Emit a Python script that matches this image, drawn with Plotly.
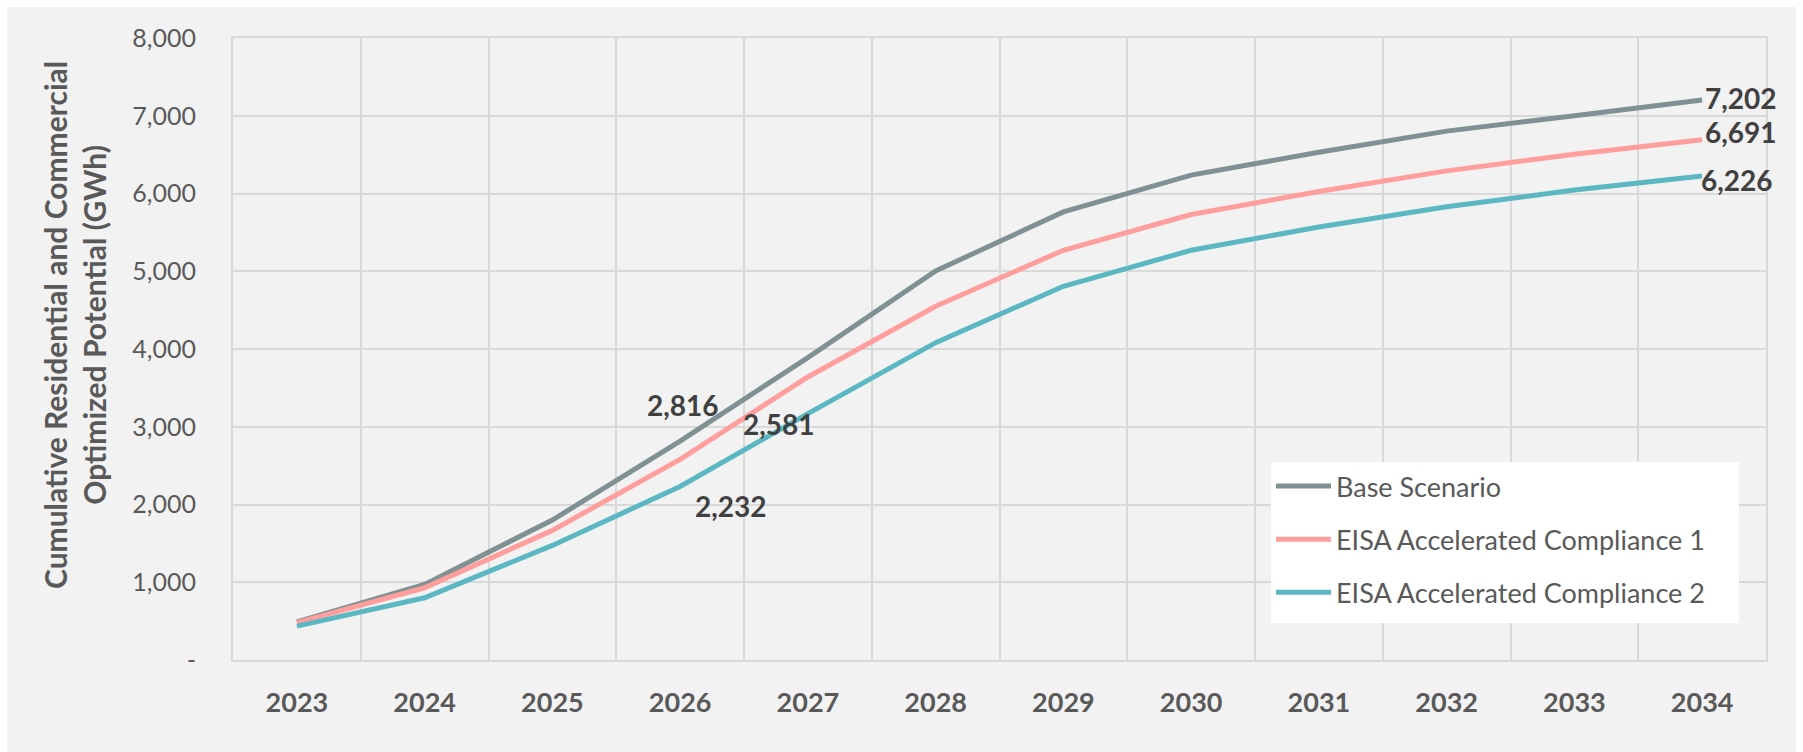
import plotly.graph_objects as go

years = ["2023", "2024", "2025", "2026", "2027", "2028", "2029", "2030", "2031", "2032", "2033", "2034"]
base_scenario = [490, 972, 1800, 2816, 3890, 5004, 5763, 6236, 6531, 6802, 7000, 7202]
eisa_1 = [480, 929, 1667, 2581, 3640, 4550, 5270, 5730, 6026, 6291, 6506, 6691]
eisa_2 = [435, 800, 1474, 2232, 3169, 4082, 4807, 5270, 5570, 5829, 6044, 6226]
series_names = ["Base Scenario", "EISA Accelerated Compliance 1", "EISA Accelerated Compliance 2"]
y_tick_values = [0, 1000, 2000, 3000, 4000, 5000, 6000, 7000, 8000]
y_title = "Cumulative Residential and Commercial<br>Optimized Potential (GWh)"

colors = ["#7F9192", "#FF9E9C", "#5BB8C3"]
series = [base_scenario, eisa_1, eisa_2]

# which points get a data label, and pixel offsets for each label
label_points = [
    [(3, 3, 36), (11, 39, 2)],
    [(3, 99, 35), (11, 39, 8)],
    [(3, 51, -20), (11, 35, -4)],
]

FONT = "Lato, 'Open Sans', sans-serif"
GRID = "#D9D9D9"
TXT = "#595959"

fig = go.Figure()
for name, vals, col in zip(series_names, series, colors):
    fig.add_trace(go.Scatter(
        x=years, y=vals, name=name, mode="lines",
        line=dict(color=col, width=5),
        legendgroup=name,
    ))

annotations = []
for vals, pts in zip(series, label_points):
    for idx, dx, dy in pts:
        annotations.append(dict(
            x=idx, y=vals[idx], xref="x", yref="y",
            text=f"{vals[idx]:,}", showarrow=False,
            xshift=dx, yshift=dy, xanchor="center", yanchor="middle",
            font=dict(family=FONT, size=28, color="#404040", weight="bold"),
        ))

# y-axis title as annotation
L, R, T, B = 233, 1766, 38, 660
pw, ph = R - L, B - T
annotations.append(dict(
    x=(74 - L) / pw, y=(B - 325) / ph, xref="paper", yref="paper",
    text=y_title, showarrow=False, textangle=-90,
    xanchor="center", yanchor="middle",
    font=dict(family=FONT, size=30, color=TXT, weight="bold"),
))

shapes = [
    # grey chart area with thin white frame
    dict(
        type="rect", xref="paper", yref="paper", layer="below",
        x0=(7 - L) / pw, x1=(1796 - L) / pw, y0=(B - 752) / ph, y1=(B - 7) / ph,
        fillcolor="#F2F2F2", line=dict(width=0),
    ),
    # white legend panel
    dict(
        type="rect", xref="paper", yref="paper", layer="above",
        x0=(1271 - L) / pw, x1=(1739 - L) / pw, y0=(B - 623) / ph, y1=(B - 462) / ph,
        fillcolor="white", line=dict(width=0),
    ),
]

fig.update_layout(
    width=1803, height=752,
    margin=dict(l=L, r=1803 - R, t=T, b=752 - B),
    paper_bgcolor="white",
    plot_bgcolor="rgba(0,0,0,0)",
    font=dict(family=FONT, color=TXT),
    showlegend=True,
    legend=dict(
        x=(1271 - L) / pw, y=(B - 462) / ph, xanchor="left", yanchor="top",
        bgcolor="white", borderwidth=0,
        font=dict(family=FONT, size=27, color=TXT),
        tracegroupgap=15, itemwidth=55,
    ),
    annotations=annotations,
    shapes=shapes,
)
fig.update_xaxes(
    type="category", range=[-0.5, 11.5],
    tickson="boundaries", showgrid=True, gridcolor=GRID, gridwidth=2,
    showline=True, mirror=True, linecolor=GRID, linewidth=2,
    ticks="", ticklabelstandoff=18,
    tickfont=dict(family=FONT, size=27, color=TXT, weight="bold"),
)
fig.update_yaxes(
    range=[0, 8000], tickvals=y_tick_values,
    ticktext=["-" if v == 0 else f"{v:,}" for v in y_tick_values],
    showgrid=True, gridcolor=GRID, gridwidth=2, zeroline=False,
    showline=True, mirror=True, linecolor=GRID, linewidth=2,
    ticks="", ticklabelstandoff=30,
    tickfont=dict(family=FONT, size=25, color=TXT),
)

fig.write_html("out.html")
